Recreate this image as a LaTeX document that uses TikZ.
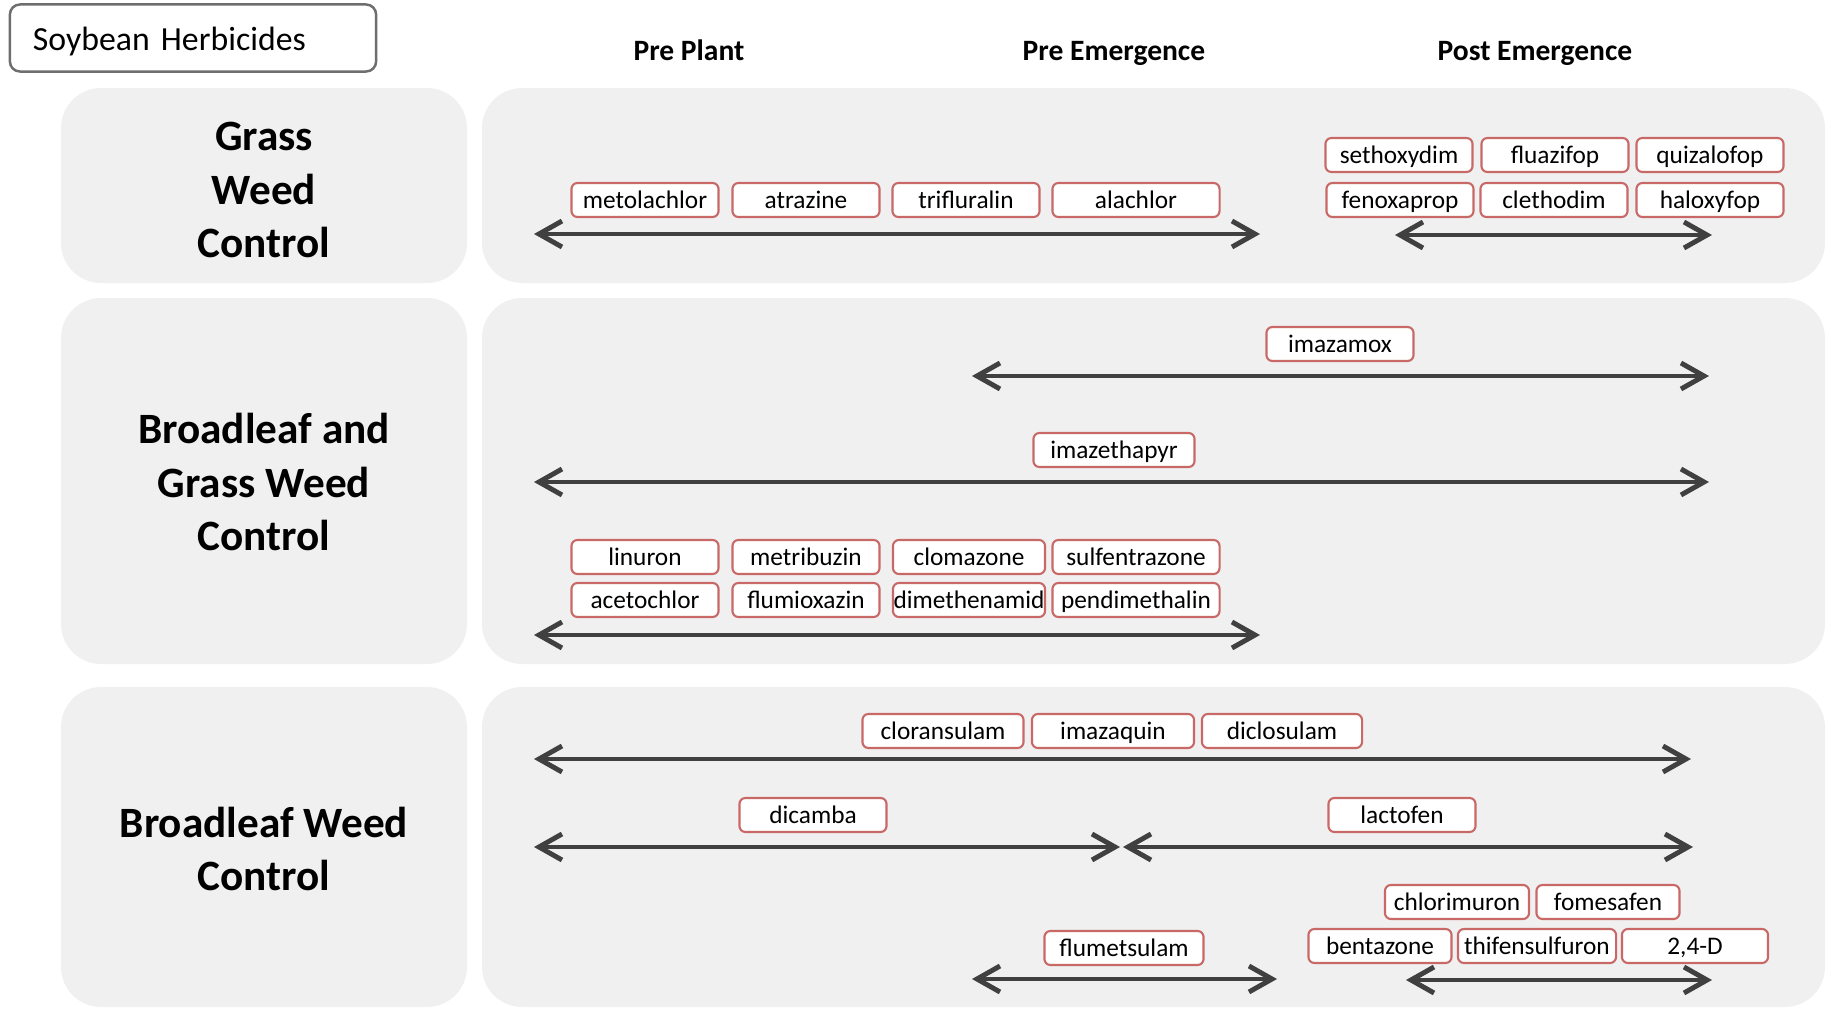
\documentclass[tikz,border=0pt]{standalone}
\usepackage{fontspec}
\setmainfont{Carlito}
\usepackage{tikz}
\usetikzlibrary{arrows.meta}
\usepackage{xcolor}
\definecolor{panelgray}{RGB}{240,240,240}
\definecolor{herbred}{RGB}{200,105,103}
\definecolor{arrowgray}{RGB}{64,64,64}
\definecolor{framegray}{RGB}{110,110,110}

\begin{document}
\begin{tikzpicture}[x=0.01cm,y=-0.01cm,
    panel/.style={fill=panelgray, rounded corners=0.4cm},
    rowlabel/.style={font=\fontsize{12.3}{15.3}\selectfont\bfseries, align=center},
    phase/.style={font=\fontsize{8.4}{10}\selectfont\bfseries, text height=0.7em, text depth=0.22em},
    herb/.style={draw=herbred, line width=0.6pt, fill=white, rounded corners=0.06cm,
      minimum width=1.47cm, minimum height=0.34cm, inner sep=0pt,
      text height=0.7em, text depth=0.2em,
      font=\fontsize{7.2}{8}\selectfont},
    span/.style={draw=arrowgray, line width=1.4pt,
      {Straight Barb[length=2.3mm,width=2.6mm]}-{Straight Barb[length=2.3mm,width=2.6mm]}}]
      \useasboundingbox (0,0) rectangle (1826,1009);

      % Background panels for the three weed groups
      \fill[panel] (61,88) rectangle (467,283);
      \fill[panel] (482,88) rectangle (1825,283);
      \fill[panel] (61,298) rectangle (467,664);
      \fill[panel] (482,298) rectangle (1825,664);
      \fill[panel] (61,687) rectangle (467,1007);
      \fill[panel] (482,687) rectangle (1825,1007);

      % Title and timing headers
      \node[draw=framegray, line width=0.7pt, fill=white, rounded corners=0.1cm,
        minimum width=3.66cm, minimum height=0.67cm, inner xsep=0.23cm,
        text width=3.2cm, align=left, text height=0.82em, text depth=0.1em,
        font=\fontsize{9.6}{11}\selectfont] (title) at (193,38) {Soybean Herbicides};
      \node[phase] (preplant) at (689,52) {Pre Plant};
      \node[phase] (preemerg) at (1114,52) {Pre Emergence};
      \node[phase] (postemerg) at (1535,52) {Post Emergence};

      % Row labels
      \node[rowlabel] (grass) at (264,190) {Grass\\Weed\\Control};
      \node[rowlabel] (both) at (264,482) {Broadleaf and\\Grass Weed\\Control};
      \node[rowlabel] (broadleaf) at (264,849) {Broadleaf Weed\\Control};

      % Grass weed control
      \node[herb] (metolachlor) at (645,200) {metolachlor};
      \node[herb] (atrazine) at (806,200) {atrazine};
      \node[herb] (trifluralin) at (966,200) {trifluralin};
      \node[herb, minimum width=1.67cm] (alachlor) at (1136,200) {alachlor};
      \node[herb] (sethoxydim) at (1399,155) {sethoxydim};
      \node[herb] (fluazifop) at (1555,155) {fluazifop};
      \node[herb] (quizalofop) at (1710,155) {quizalofop};
      \node[herb] (fenoxaprop) at (1400,200) {fenoxaprop};
      \node[herb] (clethodim) at (1554,200) {clethodim};
      \node[herb] (haloxyfop) at (1710,200) {haloxyfop};

      \coordinate (gA) at (534,234);
      \coordinate (gB) at (1260,234);
      \coordinate (gC) at (1395,235);
      \coordinate (gD) at (1712,235);
      \draw[span] (gA) -- (gB);
      \draw[span] (gC) -- (gD);

      % Broadleaf and grass weed control
      \node[herb] (imazamox) at (1340,344) {imazamox};
      \node[herb, minimum width=1.61cm] (imazethapyr) at (1114,450) {imazethapyr};
      \node[herb] (linuron) at (645,557) {linuron};
      \node[herb] (metribuzin) at (806,557) {metribuzin};
      \node[herb, minimum width=1.52cm] (clomazone) at (969,557) {clomazone};
      \node[herb, minimum width=1.67cm] (sulfentrazone) at (1136,557) {sulfentrazone};
      \node[herb] (acetochlor) at (645,600) {acetochlor};
      \node[herb] (flumioxazin) at (806,600) {flumioxazin};
      \node[herb, minimum width=1.52cm] (dimethenamid) at (969,600) {dimethenamid};
      \node[herb, minimum width=1.67cm] (pendimethalin) at (1136,600) {pendimethalin};

      \coordinate (bA) at (972,376);
      \coordinate (bB) at (1709,376);
      \coordinate (bC) at (534,482);
      \coordinate (bD) at (1709,482);
      \coordinate (bE) at (534,635);
      \coordinate (bF) at (1260,635);
      \draw[span] (bA) -- (bB);
      \draw[span] (bC) -- (bD);
      \draw[span] (bE) -- (bF);

      % Broadleaf weed control
      \node[herb, minimum width=1.61cm] (cloransulam) at (943,731) {cloransulam};
      \node[herb, minimum width=1.62cm] (imazaquin) at (1113,731) {imazaquin};
      \node[herb, minimum width=1.60cm] (diclosulam) at (1282,731) {diclosulam};
      \node[herb] (dicamba) at (813,815) {dicamba};
      \node[herb] (lactofen) at (1402,815) {lactofen};
      \node[herb, minimum width=1.44cm] (chlorimuron) at (1457,902) {chlorimuron};
      \node[herb, minimum width=1.43cm] (fomesafen) at (1608,902) {fomesafen};
      \node[herb, minimum width=1.43cm] (bentazone) at (1380,946) {bentazone};
      \node[herb, minimum width=1.58cm] (thifensulfuron) at (1537,946) {thifensulfuron};
      \node[herb, minimum width=1.46cm] (twofourD) at (1695,946) {2,4-D};
      \node[herb, minimum width=1.59cm] (flumetsulam) at (1124,948) {flumetsulam};

      \coordinate (rA) at (534,759);
      \coordinate (rB) at (1691,759);
      \coordinate (rC) at (534,847);
      \coordinate (rD) at (1120,847);
      \coordinate (rE) at (1123,847);
      \coordinate (rF) at (1693,847);
      \coordinate (rG) at (972,979);
      \coordinate (rH) at (1277,979);
      \coordinate (rI) at (1406,980);
      \coordinate (rJ) at (1712,980);
      \draw[span] (rA) -- (rB);
      \draw[span] (rC) -- (rD);
      \draw[span] (rE) -- (rF);
      \draw[span] (rG) -- (rH);
      \draw[span] (rI) -- (rJ);
    \end{tikzpicture}
\end{document}
